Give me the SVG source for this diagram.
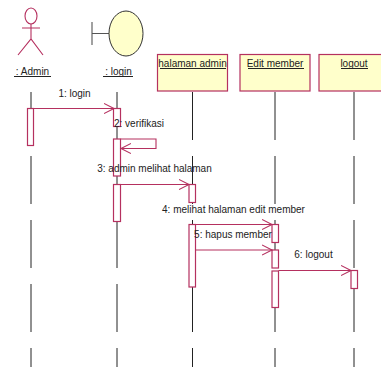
<svg xmlns="http://www.w3.org/2000/svg" width="381" height="367" viewBox="0 0 381 367">
<style>
text{font-family:"Liberation Sans",Arial,sans-serif;font-size:10px;fill:#222;text-anchor:middle}
.life{stroke:#222;stroke-width:1;fill:none;stroke-dasharray:48 16}
.box{fill:#ffffcb;stroke:#b5305f;stroke-width:1.2}
.act{fill:#fff;stroke:#b5305f;stroke-width:1.2}
.msg{fill:none;stroke:#b5305f;stroke-width:1.1}
.ul{stroke:#222;stroke-width:1}
.actor{fill:none;stroke:#b5305f;stroke-width:1.1}
</style>
<defs>
<marker id="open" markerUnits="userSpaceOnUse" markerWidth="12" markerHeight="12" refX="10" refY="6" orient="auto"><path d="M0 1L10 6L0 11" fill="none" stroke="#b5305f" stroke-width="1.1"/></marker>
</defs>
<g id="lifelines">
<path class="life" d="M31 92V367"/>
<path class="life" d="M117 92V367"/>
<path class="life" d="M192.500 92V367"/>
<path class="life" d="M275 92V367"/>
<path class="life" d="M354 92V367"/>
</g>
<g id="node-admin">
<ellipse class="actor" cx="31" cy="16" rx="6" ry="8"/>
<path class="actor" d="M22 28H40M31 24V39M18 55L31 39L43 55"/>
<text x="32.500" y="75">: Admin</text>
<path class="ul" d="M14 76.500H51"/>
</g>
<g id="node-login">
<path d="M92 22V45M92 33.500H109" fill="none" stroke="#555" stroke-width="1.1"/>
<ellipse cx="126" cy="33.500" rx="17" ry="22.500" fill="#ffffcb" stroke="#333" stroke-width="1"/>
<text x="118.500" y="75">: login</text>
<path class="ul" d="M103 76.500H133"/>
</g>
<g id="node-halaman">
<rect class="box" x="157.500" y="54.500" width="70" height="36.500"/>
<text x="192.500" y="67">halaman admin</text>
<path class="ul" d="M160 68.500H226"/>
</g>
<g id="node-edit">
<rect class="box" x="240" y="54.500" width="70" height="36.500"/>
<text x="275" y="67">Edit member</text>
<path class="ul" d="M248 68.500H304"/>
</g>
<g id="node-logout">
<rect class="box" x="319" y="54.500" width="70" height="36.500"/>
<text x="354" y="67">logout</text>
<path class="ul" d="M341 68.500H368"/>
</g>
<g id="activations">
<rect class="act" x="27.500" y="108.500" width="6" height="37"/>
<rect class="act" x="113.500" y="108.500" width="7" height="18"/>
<rect class="act" x="113.500" y="139" width="7" height="37"/>
<rect class="act" x="113.500" y="184.500" width="7" height="37"/>
<rect class="act" x="189" y="184.500" width="6.500" height="18"/>
<rect class="act" x="189" y="224.500" width="6.500" height="62.500"/>
<rect class="act" x="272" y="224.500" width="6.500" height="18"/>
<rect class="act" x="272" y="250" width="6.500" height="18"/>
<rect class="act" x="272" y="271" width="6.500" height="36.500"/>
<rect class="act" x="351" y="270.500" width="6.500" height="18"/>
</g>
<g id="connectors">
<path class="msg" d="M33.500 108.500H114" marker-end="url(#open)"/>
<path class="msg" d="M120.500 139H156V148.500H121" marker-end="url(#open)"/>
<path class="msg" d="M120.500 184.500H189" marker-end="url(#open)"/>
<path class="msg" d="M195.500 224.500H272" marker-end="url(#open)"/>
<path class="msg" d="M195.500 250H272" marker-end="url(#open)"/>
<path class="msg" d="M278.500 270.500H351" marker-end="url(#open)"/>
</g>
<g id="labels">
<text x="74.500" y="97">1: login</text>
<text x="139" y="127">2: verifikasi</text>
<text x="154.500" y="172">3: admin melihat halaman</text>
<text x="233.500" y="213">4: melihat halaman edit member</text>
<text x="233" y="238">5: hapus member</text>
<text x="313.500" y="258">6: logout</text>
</g>
</svg>
